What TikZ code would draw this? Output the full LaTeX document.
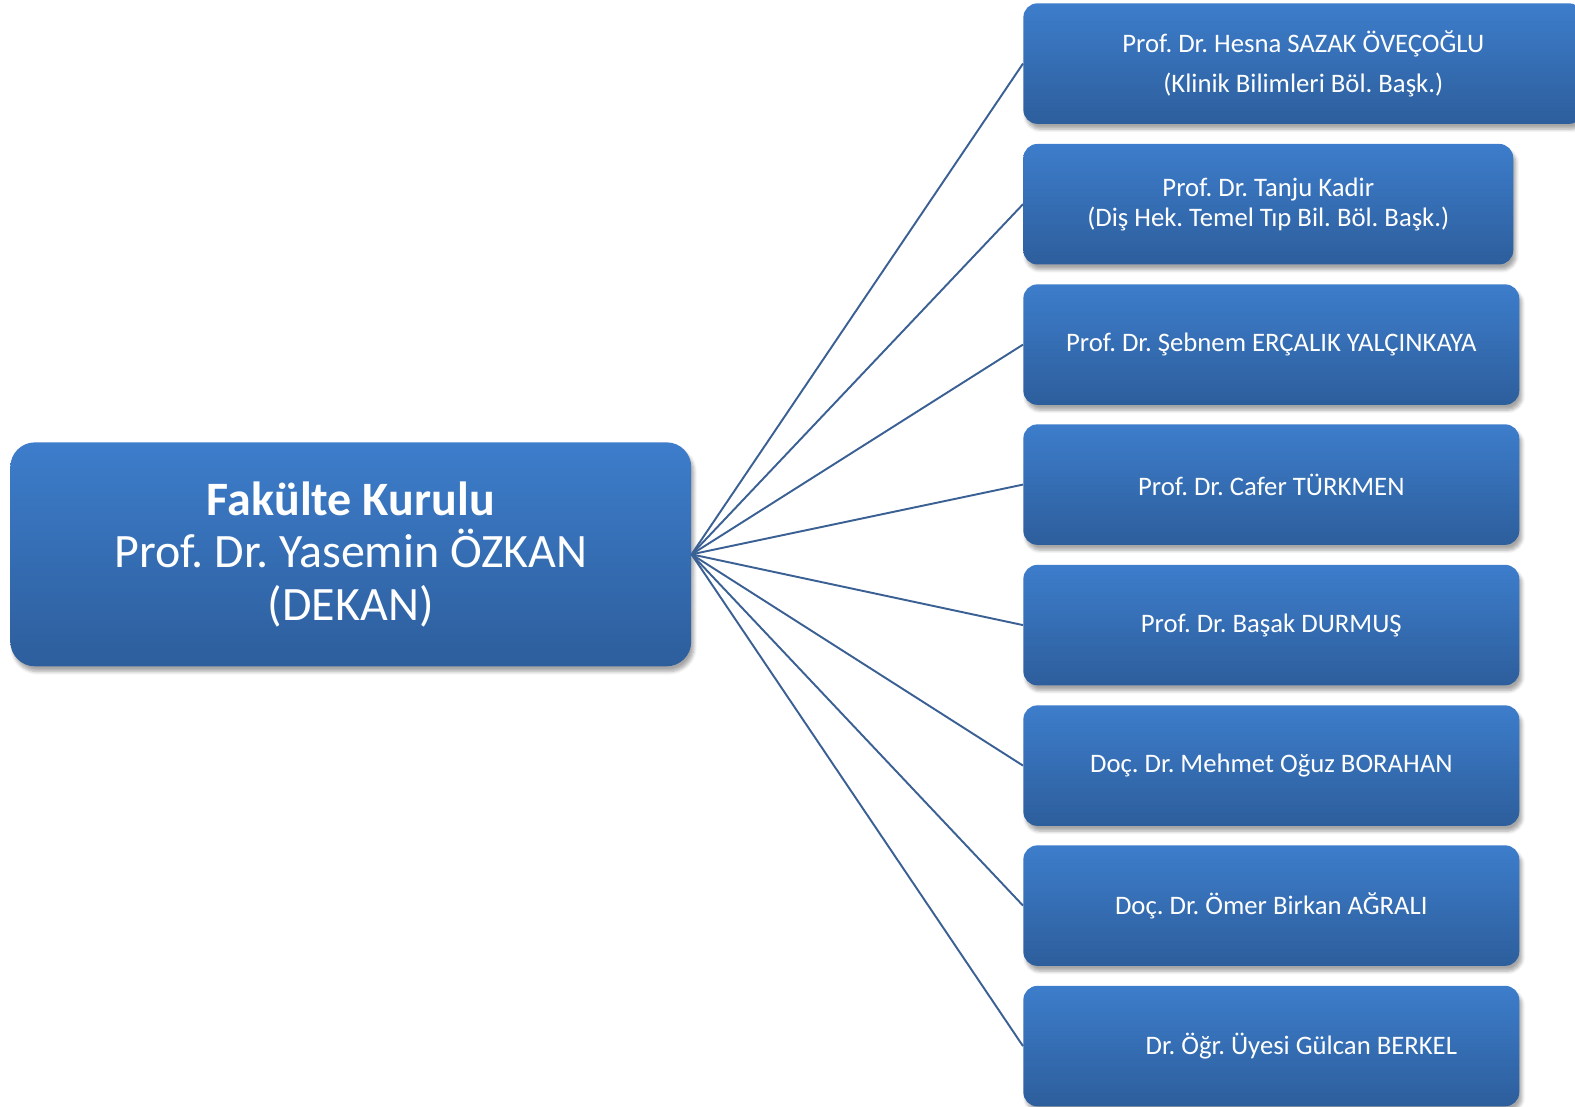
\documentclass[tikz,border=0pt]{standalone}
\usepackage{fontspec}
\setmainfont{Carlito}
\usepackage{tikz}
\usetikzlibrary{shadows.blur}
\frenchspacing

\definecolor{kutuUst}{RGB}{61,125,203}
\definecolor{kutuAlt}{RGB}{45,94,156}
\definecolor{hatRengi}{RGB}{58,96,148}

\begin{document}
\begin{tikzpicture}[x=0.02cm,y=-0.02cm,
  kutu/.style={rounded corners=8pt,top color=kutuUst,bottom color=kutuAlt,
    text=white,align=center,anchor=north west,inner sep=0pt,
    minimum height=2.41cm,font=\fontsize{15.2}{17}\selectfont,
    blur shadow={shadow xshift=1.5pt,shadow yshift=-3pt,shadow blur steps=6,shadow opacity=35}},
  bag/.style={draw=hatRengi,line width=1.1pt}]
\useasboundingbox (0,0) rectangle (1575,1106);
\clip (0,0) rectangle (1575,1106);

% dekan
\node[kutu,rounded corners=14pt,minimum width=13.62cm,minimum height=4.48cm,
  font=\fontsize{27.3}{30}\selectfont] (dekan) at (10,442)
  {\textbf{Fakülte Kurulu}\\Prof. Dr. Yasemin ÖZKAN\\(DEKAN)};

% uyeler
\node[kutu,minimum width=11.2cm,font=\fontsize{15.2}{22.7}\selectfont] (uye1) at (1023,3)
  {Prof. Dr. Hesna SAZAK ÖVEÇOĞLU\\(Klinik Bilimleri Böl. Başk.)};
\node[kutu,minimum width=9.8cm] (uye2) at (1023,143.6)
  {Prof. Dr. Tanju Kadir\\(Diş Hek. Temel Tıp Bil. Böl. Başk.)};
\node[kutu,minimum width=9.92cm] (uye3) at (1023,284)
  {Prof. Dr. Şebnem ERÇALIK YALÇINKAYA};
\node[kutu,minimum width=9.92cm] (uye4) at (1023,424)
  {Prof. Dr. Cafer TÜRKMEN};
\node[kutu,minimum width=9.92cm] (uye5) at (1023,564.5)
  {Prof. Dr. Başak DURMUŞ};
\node[kutu,minimum width=9.92cm] (uye6) at (1023,705)
  {Doç. Dr. Mehmet Oğuz BORAHAN};
\node[kutu,minimum width=9.92cm] (uye7) at (1023,845)
  {Doç. Dr. Ömer Birkan AĞRALI};
\node[kutu,minimum width=9.92cm] (uye8) at (1023,985.5)
  {\hspace*{1.2cm}Dr. Öğr. Üyesi Gülcan BERKEL};

% baglantilar
\draw[bag] (dekan.east) -- (uye1.west);
\draw[bag] (dekan.east) -- (uye2.west);
\draw[bag] (dekan.east) -- (uye3.west);
\draw[bag] (dekan.east) -- (uye4.west);
\draw[bag] (dekan.east) -- (uye5.west);
\draw[bag] (dekan.east) -- (uye6.west);
\draw[bag] (dekan.east) -- (uye7.west);
\draw[bag] (dekan.east) -- (uye8.west);
\end{tikzpicture}
\end{document}
